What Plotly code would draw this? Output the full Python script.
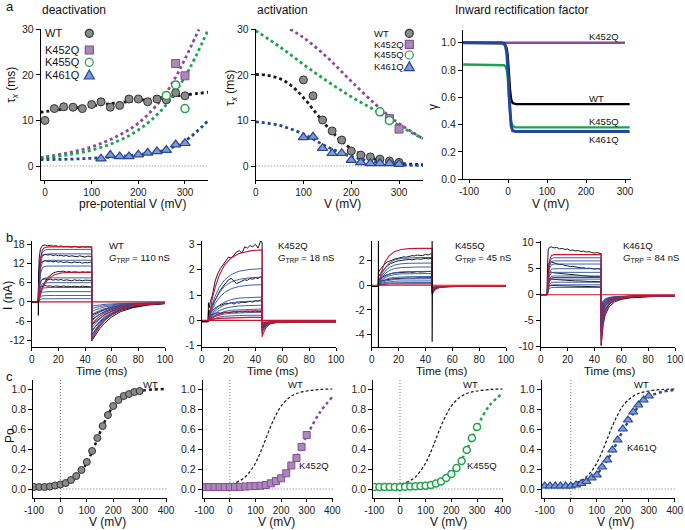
import plotly.graph_objects as go

W, H = 685, 530
FONT = "Liberation Sans, Arial, sans-serif"

INK = "#1a1a1a"
PURPLE = "#8e47a2"
PURPLE_FILL = "#a68cb3"
GREEN = "#1fa34a"
BLUE = "#24469b"
BLUE_FILL = "#7f98cf"
GRAY_FILL = "#8a8a8a"
RED = "#c8142f"
TRACE_BLUE = "#2b4d9f"

# ---------------- a: deactivation ----------------
deact_wt_v = [0, 20, 40, 60, 80, 100, 120, 140, 160, 180, 200, 220, 240, 260, 280, 300]
deact_wt = [10.0, 12.6, 13.0, 12.9, 12.6, 13.5, 14.1, 12.9, 13.3, 14.7, 14.7, 14.1, 14.7, 14.5, 16.1, 15.4]
deact_wt_fit_v = [-10, 50, 100, 150, 200, 250, 300, 350]
deact_wt_fit = [11.8, 12.6, 13.2, 13.8, 14.4, 15.0, 15.6, 16.2]
deact_452_v = [280, 300]
deact_452 = [22.5, 19.8]
deact_452_fit_v = [-10, 0, 50, 100, 150, 200, 250, 280, 300, 330]
deact_452_fit = [1.9, 2.0, 2.9, 4.2, 6.3, 9.4, 14.7, 19.5, 23.5, 30.0]
deact_455_v = [260, 280, 300]
deact_455 = [15.5, 17.8, 12.6]
deact_455_fit_v = [-10, 0, 50, 100, 150, 200, 250, 300, 350]
deact_455_fit = [1.7, 1.8, 2.5, 3.5, 5.2, 7.9, 12.3, 19.6, 30.0]
deact_461_v = [120, 140, 160, 180, 200, 220, 240, 260, 280, 300]
deact_461 = [1.6, 2.4, 2.1, 2.1, 2.5, 2.9, 3.2, 3.5, 4.7, 5.0]
deact_461_fit_v = [-10, 50, 100, 150, 200, 250, 300, 350]
deact_461_fit = [1.4, 1.5, 1.7, 2.0, 2.5, 3.3, 5.5, 10.0]

# ---------------- a: activation ----------------
act_wt_v = [100, 120, 140, 160, 180, 200, 220, 240, 260, 280, 300]
act_wt = [18.9, 15.4, 10.1, 7.7, 5.7, 3.3, 2.4, 2.0, 1.5, 1.1, 0.8]
act_wt_fit_v = [0, 25, 50, 75, 100, 125, 150, 175, 200, 225, 250, 300, 350]
act_wt_fit = [20.1, 19.9, 19.2, 17.6, 15.0, 11.8, 8.6, 5.9, 3.8, 2.4, 1.5, 0.6, 0.3]
act_452_v = [280, 300]
act_452 = [10.4, 8.1]
act_452_fit_v = [72, 100, 150, 200, 250, 280, 300, 350]
act_452_fit = [30.0, 28.2, 23.8, 18.6, 13.6, 10.9, 9.3, 6.0]
act_455_v = [260, 280]
act_455 = [11.9, 10.0]
act_455_fit_v = [0, 50, 100, 150, 200, 250, 300, 350]
act_455_fit = [29.7, 26.2, 22.3, 18.6, 15.2, 12.2, 8.9, 6.0]
act_461_v = [100, 120, 140, 160, 180, 200, 220, 240, 260, 280, 300]
act_461 = [6.3, 6.4, 3.9, 2.8, 2.8, 1.3, 0.8, 0.6, 0.6, 0.6, 0.4]
act_461_fit_v = [0, 50, 100, 150, 200, 250, 300, 350]
act_461_fit = [9.7, 8.9, 7.0, 4.2, 2.1, 0.9, 0.3, 0.1]

# ---------------- a: inward rectification factor ----------------
rect_v = [-115, -15, -10, -6, -3, -1, 0, 1, 3, 5, 8, 12, 20, 312]
rect_wt = [1.0, 1.0, 0.995, 0.98, 0.95, 0.91, 0.88, 0.84, 0.75, 0.66, 0.585, 0.558, 0.55, 0.55]
rect_455 = [0.84, 0.84, 0.835, 0.825, 0.8, 0.76, 0.73, 0.69, 0.6, 0.5, 0.42, 0.39, 0.38, 0.38]
rect_461 = [1.0, 1.0, 0.99, 0.97, 0.92, 0.85, 0.8, 0.74, 0.6, 0.48, 0.39, 0.355, 0.35, 0.35]
rect_452_v = [-115, 300]
rect_452 = [1.0, 1.0]

# ---------------- b: current traces ----------------
t_on = [5, 5.6, 6.5, 8, 10, 13, 17, 22, 28, 36, 45]
t_off = [45, 45.6, 46.5, 48, 51, 55, 60, 67, 76, 87, 100]
t_raw = [0, 4.9, 5, 5.2, 5.6, 6.5, 8, 10, 12, 14, 16, 18, 20, 22, 24, 26, 28, 30, 32, 34, 36, 38, 40, 42, 44, 45]
base_t = [0, 100]
base_i = [0, 0]

# WT
wt_blue_on = [
    [0, 0.45, 0.78, 0.95, 0.99, 1, 1, 1, 1, 1, 1],
    [0, 0.9, 1.56, 1.9, 1.98, 2, 2, 2, 2, 2, 2],
    [0, 1.44, 2.5, 3.04, 3.17, 3.2, 3.2, 3.2, 3.2, 3.2, 3.2],
    [0, 2.03, 3.51, 4.28, 4.46, 4.5, 4.5, 4.5, 4.5, 4.5, 4.5],
    [0, 2.7, 4.68, 5.7, 5.94, 6, 6, 6, 6, 6, 6],
    [0, 3.38, 5.85, 7.13, 7.43, 7.5, 7.5, 7.5, 7.5, 7.5, 7.5],
    [0, 5.04, 8.74, 10.64, 11.09, 11.2, 11.2, 11.2, 11.2, 11.2, 11.2],
    [0, 5.85, 10.14, 12.35, 12.87, 13, 13, 13, 13, 13, 13],
    [0, 6.75, 11.7, 14.25, 14.85, 15, 15, 15, 15, 15, 15],
    [0, 7.38, 12.79, 15.58, 16.24, 16.4, 16.4, 16.4, 16.4, 16.4, 16.4],
]
wt_blue_off = [
    [-1.3, -1.26, -1.19, -1.09, -0.93, -0.76, -0.62, -0.48, -0.39, -0.34, -0.32],
    [-2.1, -2.02, -1.9, -1.73, -1.43, -1.13, -0.87, -0.63, -0.47, -0.37, -0.33],
    [-3.0, -2.88, -2.71, -2.44, -2.0, -1.55, -1.15, -0.8, -0.55, -0.41, -0.34],
    [-4.0, -3.83, -3.6, -3.24, -2.63, -2.01, -1.47, -0.98, -0.64, -0.45, -0.36],
    [-5.0, -4.79, -4.49, -4.03, -3.26, -2.48, -1.78, -1.16, -0.73, -0.49, -0.37],
    [-6.0, -5.74, -5.38, -4.83, -3.89, -2.94, -2.1, -1.35, -0.82, -0.53, -0.39],
    [-8.3, -7.94, -7.43, -6.65, -5.34, -4.0, -2.82, -1.77, -1.04, -0.62, -0.42],
    [-9.4, -8.99, -8.41, -7.53, -6.03, -4.51, -3.17, -1.97, -1.14, -0.66, -0.44],
    [-10.6, -10.14, -9.48, -8.48, -6.79, -5.07, -3.54, -2.2, -1.25, -0.71, -0.45],
    [-11.3, -10.8, -10.1, -9.03, -7.23, -5.39, -3.77, -2.32, -1.31, -0.74, -0.47],
]
wt_red_on = [
    [0, 7.74, 13.42, 16.34, 17.03, 17.2, 17.2, 17.2, 17.2, 17.2, 17.2],
    [0, 1.02, 2.42, 4.19, 5.86, 7.44, 8.46, 9.02, 9.21, 9.3, 9.3],
]
wt_red_off = [
    [-12.0, -11.47, -10.72, -9.59, -7.67, -5.72, -3.99, -2.45, -1.38, -0.77, -0.48],
    [-7.0, -6.7, -6.27, -5.62, -4.52, -3.4, -2.41, -1.53, -0.92, -0.57, -0.4],
]
wt_raw_on = [
    [0, 0, 4, 9, 13.5, 16.5, 17.6, 17.8, 17.5, 17.7, 17.4, 17.6, 17.3, 17.5, 17.2, 17.4, 17.3, 17.1, 17.4, 17.2, 17.0, 17.3, 17.1, 17.2, 17.0, 17.1],
    [0, 0, 3, 7, 11, 13.8, 14.6, 14.9, 14.6, 14.8, 14.5, 14.7, 14.4, 14.6, 14.3, 14.5, 14.2, 14.4, 14.3, 14.1, 14.4, 14.2, 14.0, 14.3, 14.1, 14.2],
    [0, 0, 2.5, 6, 9.5, 11.9, 12.6, 12.9, 12.6, 12.8, 12.5, 12.7, 12.4, 12.6, 12.3, 12.5, 12.4, 12.2, 12.5, 12.3, 12.4, 12.1, 12.3, 12.2, 12.4, 12.3],
    [0, 0, 0.5, 1.2, 2.0, 3.2, 4.6, 6.3, 7.6, 8.4, 9.0, 9.3, 9.5, 9.4, 9.6, 9.3, 9.5, 9.2, 9.4, 9.3, 9.1, 9.4, 9.2, 9.3, 9.1, 9.2],
    [0, 0, 1.2, 3, 4.8, 6.3, 7.0, 7.2, 6.9, 7.1, 6.8, 7.0, 6.8, 7.0, 6.7, 6.9, 6.8, 6.6, 6.9, 6.7, 6.8, 6.6, 6.8, 6.7, 6.8, 6.7],
    [0, 0, 0.8, 2, 3.4, 4.5, 4.9, 5.1, 4.9, 5.0, 4.8, 5.0, 4.9, 4.8, 5.0, 4.8, 4.9, 4.7, 4.9, 4.8, 4.7, 4.9, 4.8, 4.8, 4.7, 4.8],
]
wt_raw_off = [
    [-12.2, -11.8, -11.2, -10.2, -8.4, -6.5, -4.7, -3.0, -1.8, -1.0, -0.55],
    [-10.3, -10.0, -9.5, -8.7, -7.2, -5.6, -4.1, -2.6, -1.6, -0.9, -0.5],
    [-9.0, -8.7, -8.3, -7.6, -6.3, -4.9, -3.6, -2.3, -1.4, -0.8, -0.45],
    [-7.2, -7.0, -6.6, -6.0, -5.0, -3.9, -2.9, -1.9, -1.2, -0.7, -0.4],
    [-5.6, -5.4, -5.1, -4.7, -3.9, -3.0, -2.2, -1.5, -0.95, -0.6, -0.4],
    [-4.3, -4.1, -3.9, -3.6, -3.0, -2.3, -1.7, -1.2, -0.8, -0.5, -0.35],
]
wt_spike_t = [4.95, 5.0, 5.1]
wt_spike_i = [0, -4.2, 0.5]

# K452Q
k452_blue_on = [
    [0, 0.15, 0.35, 0.64, 0.95, 1.3, 1.59, 1.81, 1.94, 2.01, 2.04],
    [0, 0.12, 0.29, 0.54, 0.8, 1.09, 1.34, 1.52, 1.62, 1.68, 1.71],
    [0, 0.1, 0.24, 0.44, 0.66, 0.9, 1.1, 1.25, 1.34, 1.39, 1.41],
    [0, 0.07, 0.16, 0.29, 0.43, 0.59, 0.72, 0.82, 0.88, 0.91, 0.92],
    [0, 0.06, 0.13, 0.24, 0.36, 0.49, 0.61, 0.69, 0.74, 0.76, 0.77],
    [0, 0.04, 0.1, 0.19, 0.28, 0.38, 0.47, 0.53, 0.57, 0.59, 0.6],
    [0, 0.03, 0.08, 0.14, 0.21, 0.28, 0.35, 0.4, 0.42, 0.44, 0.45],
    [0, 0.02, 0.05, 0.1, 0.15, 0.2, 0.25, 0.28, 0.3, 0.31, 0.32],
    [0, 0.01, 0.03, 0.06, 0.09, 0.13, 0.16, 0.18, 0.19, 0.2, 0.2],
]
k452_blue_off = [
    [-0.5, -0.42, -0.32, -0.22, -0.11, -0.07, -0.05, -0.05, -0.05, -0.05, -0.05],
    [-0.45, -0.38, -0.29, -0.2, -0.1, -0.06, -0.05, -0.05, -0.05, -0.05, -0.05],
    [-0.4, -0.34, -0.26, -0.18, -0.1, -0.06, -0.05, -0.05, -0.05, -0.05, -0.05],
    [-0.3, -0.25, -0.2, -0.14, -0.08, -0.06, -0.05, -0.05, -0.05, -0.05, -0.05],
    [-0.27, -0.23, -0.18, -0.13, -0.08, -0.06, -0.05, -0.05, -0.05, -0.05, -0.05],
    [-0.22, -0.19, -0.15, -0.11, -0.07, -0.06, -0.05, -0.05, -0.05, -0.05, -0.05],
    [-0.18, -0.16, -0.13, -0.1, -0.07, -0.05, -0.05, -0.05, -0.05, -0.05, -0.05],
    [-0.14, -0.12, -0.1, -0.08, -0.06, -0.05, -0.05, -0.05, -0.05, -0.05, -0.05],
    [-0.1, -0.09, -0.08, -0.07, -0.06, -0.05, -0.05, -0.05, -0.05, -0.05, -0.05],
]
k452_red_on = [
    [0, 0.2, 0.48, 0.88, 1.3, 1.77, 2.18, 2.47, 2.64, 2.74, 2.78],
    [0, 0.03, 0.06, 0.12, 0.18, 0.24, 0.3, 0.33, 0.36, 0.37, 0.38],
    [0, 0.01, 0.02, 0.04, 0.06, 0.08, 0.09, 0.11, 0.11, 0.12, 0.12],
]
k452_red_off = [
    [-0.65, -0.54, -0.41, -0.27, -0.13, -0.07, -0.05, -0.05, -0.05, -0.05, -0.05],
    [-0.16, -0.14, -0.12, -0.09, -0.06, -0.05, -0.05, -0.05, -0.05, -0.05, -0.05],
    [-0.08, -0.07, -0.07, -0.06, -0.05, -0.05, -0.05, -0.05, -0.05, -0.05, -0.05],
]
k452_raw_on = [
    [-0.05, -0.05, 0.7, 0.6, 0.5, 0.75, 1.0, 1.55, 1.85, 2.05, 2.2, 2.35, 2.5, 2.45, 2.6, 2.7, 2.75, 2.65, 2.9, 2.85, 2.95, 2.9, 3.0, 2.85, 3.15, 3.05],
    [-0.05, -0.05, 0.4, 0.35, 0.3, 0.45, 0.6, 0.85, 1.05, 1.2, 1.35, 1.5, 1.6, 1.65, 1.55, 1.45, 1.5, 1.55, 1.6, 1.58, 1.65, 1.62, 1.68, 1.65, 1.72, 1.7],
    [-0.05, -0.05, 0.3, 0.28, 0.25, 0.3, 0.38, 0.48, 0.55, 0.6, 0.62, 0.68, 0.66, 0.7, 0.64, 0.7, 0.68, 0.72, 0.7, 0.73, 0.75, 0.72, 0.78, 0.76, 0.8, 0.78],
    [-0.05, -0.05, 0.2, 0.18, 0.16, 0.2, 0.24, 0.27, 0.3, 0.28, 0.31, 0.33, 0.3, 0.32, 0.34, 0.31, 0.35, 0.33, 0.34, 0.36, 0.33, 0.35, 0.37, 0.34, 0.36, 0.35],
]
k452_raw_off = [
    [-0.35, -0.3, -0.25, -0.2, -0.13, -0.09, -0.07, -0.06, -0.05, -0.06, -0.05],
    [-0.3, -0.26, -0.22, -0.17, -0.11, -0.08, -0.06, -0.05, -0.05, -0.05, -0.05],
    [-0.25, -0.22, -0.18, -0.14, -0.09, -0.07, -0.06, -0.05, -0.05, -0.05, -0.05],
    [-0.2, -0.18, -0.15, -0.12, -0.08, -0.06, -0.05, -0.05, -0.05, -0.05, -0.05],
]

# K455Q
k455_blue_on = [
    [0, 0.25, 0.58, 1.01, 1.42, 1.8, 2.05, 2.18, 2.23, 2.25, 2.25],
    [0, 0.2, 0.47, 0.81, 1.14, 1.44, 1.64, 1.74, 1.78, 1.8, 1.8],
    [0, 0.17, 0.38, 0.67, 0.94, 1.18, 1.35, 1.43, 1.47, 1.48, 1.48],
    [0, 0.13, 0.29, 0.51, 0.71, 0.89, 1.02, 1.08, 1.11, 1.12, 1.12],
    [0, 0.11, 0.25, 0.43, 0.6, 0.76, 0.86, 0.92, 0.94, 0.95, 0.95],
    [0, 0.08, 0.18, 0.32, 0.44, 0.56, 0.64, 0.68, 0.69, 0.7, 0.7],
    [0, 0.06, 0.13, 0.23, 0.33, 0.41, 0.47, 0.5, 0.51, 0.52, 0.52],
    [0, 0.04, 0.09, 0.16, 0.22, 0.28, 0.32, 0.34, 0.35, 0.35, 0.35],
    [0, 0.02, 0.06, 0.1, 0.14, 0.18, 0.2, 0.21, 0.22, 0.22, 0.22],
]
k455_blue_off = [
    [-0.65, -0.53, -0.4, -0.27, -0.15, -0.11, -0.1, -0.1, -0.1, -0.1, -0.1],
    [-0.58, -0.48, -0.36, -0.24, -0.14, -0.11, -0.1, -0.1, -0.1, -0.1, -0.1],
    [-0.5, -0.41, -0.32, -0.22, -0.14, -0.11, -0.1, -0.1, -0.1, -0.1, -0.1],
    [-0.42, -0.35, -0.28, -0.2, -0.13, -0.11, -0.1, -0.1, -0.1, -0.1, -0.1],
    [-0.38, -0.32, -0.25, -0.18, -0.13, -0.11, -0.1, -0.1, -0.1, -0.1, -0.1],
    [-0.32, -0.27, -0.22, -0.17, -0.12, -0.1, -0.1, -0.1, -0.1, -0.1, -0.1],
    [-0.27, -0.23, -0.19, -0.15, -0.12, -0.1, -0.1, -0.1, -0.1, -0.1, -0.1],
    [-0.22, -0.19, -0.17, -0.14, -0.11, -0.1, -0.1, -0.1, -0.1, -0.1, -0.1],
    [-0.18, -0.16, -0.14, -0.12, -0.11, -0.1, -0.1, -0.1, -0.1, -0.1, -0.1],
]
k455_red_on = [
    [0, 0.34, 0.78, 1.35, 1.9, 2.39, 2.73, 2.9, 2.97, 2.99, 3.0],
    [0, 0.01, 0.03, 0.05, 0.08, 0.1, 0.11, 0.12, 0.12, 0.12, 0.12],
]
k455_red_off = [
    [-0.75, -0.61, -0.46, -0.3, -0.16, -0.11, -0.1, -0.1, -0.1, -0.1, -0.1],
    [-0.15, -0.14, -0.13, -0.12, -0.1, -0.1, -0.1, -0.1, -0.1, -0.1, -0.1],
]
k455_raw_on = [
    [-0.1, -0.1, 1.0, 1.1, 1.15, 1.3, 1.5, 1.75, 1.9, 2.0, 2.1, 2.15, 2.2, 2.25, 2.3, 2.28, 2.35, 2.4, 2.38, 2.45, 2.42, 2.4, 2.5, 2.45, 2.55, 2.5],
    [-0.1, -0.1, 0.7, 0.75, 0.8, 0.95, 1.15, 1.4, 1.6, 1.75, 1.85, 1.92, 1.98, 2.02, 2.05, 2.08, 2.1, 2.06, 2.12, 2.15, 2.1, 2.16, 2.18, 2.14, 2.2, 2.18],
    [-0.1, -0.1, 0.4, 0.42, 0.45, 0.55, 0.65, 0.78, 0.88, 0.93, 0.98, 1.0, 1.03, 1.05, 1.02, 1.06, 1.08, 1.04, 1.09, 1.1, 1.07, 1.11, 1.09, 1.12, 1.1, 1.11],
    [-0.1, -0.1, 0.2, 0.22, 0.25, 0.3, 0.36, 0.42, 0.46, 0.5, 0.52, 0.54, 0.55, 0.57, 0.56, 0.58, 0.59, 0.57, 0.6, 0.58, 0.61, 0.6, 0.59, 0.62, 0.6, 0.61],
]
k455_raw_off = [
    [-0.5, -0.42, -0.34, -0.26, -0.17, -0.12, -0.1, -0.1, -0.09, -0.1, -0.1],
    [-0.55, -0.46, -0.36, -0.25, -0.16, -0.12, -0.1, -0.1, -0.1, -0.1, -0.1],
    [-0.35, -0.3, -0.24, -0.18, -0.13, -0.11, -0.1, -0.1, -0.1, -0.1, -0.1],
    [-0.25, -0.22, -0.18, -0.15, -0.12, -0.1, -0.1, -0.1, -0.1, -0.1, -0.1],
]
k455_spike_t = [4.98, 5.0, 5.02, 5.1, None, 44.98, 45.0, 45.02, 45.2]
k455_spike_i = [-0.1, 5.0, -6.0, -0.1, None, 2.5, 5.0, -4.6, -0.5]

# K461Q
k461_blue_on = [
    [0, 3.9, 6.04, 6.96, 7.1, 7.1, 7.1, 7.1, 7.1, 7.1, 7.1],
    [0, 3.58, 5.53, 6.37, 6.5, 6.5, 6.5, 6.5, 6.5, 6.5, 6.5],
    [0, 3.25, 5.02, 5.78, 5.9, 5.9, 5.9, 5.9, 5.9, 5.9, 5.9],
    [0, 2.75, 4.25, 4.9, 5.0, 5.0, 5.0, 5.0, 5.0, 5.0, 5.0],
    [0, 2.37, 3.66, 4.21, 4.3, 4.3, 4.3, 4.3, 4.3, 4.3, 4.3],
    [0, 1.98, 3.06, 3.53, 3.6, 3.6, 3.6, 3.6, 3.6, 3.6, 3.6],
    [0, 1.65, 2.55, 2.94, 3.0, 3.0, 3.0, 3.0, 3.0, 3.0, 3.0],
    [0, 1.32, 2.04, 2.35, 2.4, 2.4, 2.4, 2.4, 2.4, 2.4, 2.4],
    [0, 1.05, 1.62, 1.86, 1.9, 1.9, 1.9, 1.9, 1.9, 1.9, 1.9],
    [0, 0.77, 1.19, 1.37, 1.4, 1.4, 1.4, 1.4, 1.4, 1.4, 1.4],
]
k461_blue_off = [
    [-8.7, -6.69, -4.86, -3.12, -1.76, -1.02, -0.66, -0.43, -0.29, -0.22, -0.2],
    [-8.0, -6.15, -4.47, -2.88, -1.63, -0.96, -0.62, -0.41, -0.29, -0.22, -0.2],
    [-7.3, -5.62, -4.09, -2.64, -1.5, -0.89, -0.58, -0.39, -0.28, -0.21, -0.2],
    [-6.2, -4.78, -3.49, -2.26, -1.3, -0.78, -0.52, -0.36, -0.27, -0.21, -0.2],
    [-5.4, -4.17, -3.05, -1.99, -1.15, -0.7, -0.48, -0.34, -0.26, -0.21, -0.2],
    [-4.5, -3.48, -2.56, -1.68, -0.99, -0.62, -0.43, -0.32, -0.25, -0.21, -0.2],
    [-3.8, -2.95, -2.17, -1.44, -0.86, -0.55, -0.39, -0.3, -0.24, -0.2, -0.2],
    [-3.1, -2.41, -1.79, -1.2, -0.73, -0.48, -0.36, -0.28, -0.23, -0.2, -0.2],
    [-2.5, -1.95, -1.46, -0.99, -0.62, -0.42, -0.32, -0.26, -0.23, -0.2, -0.2],
    [-1.9, -1.5, -1.13, -0.78, -0.51, -0.36, -0.29, -0.25, -0.22, -0.2, -0.2],
]
k461_red_on = [
    [0, 4.24, 6.55, 7.55, 7.7, 7.7, 7.7, 7.7, 7.7, 7.7, 7.7],
    [0, 1.82, 2.81, 3.23, 3.3, 3.3, 3.3, 3.3, 3.3, 3.3, 3.3],
]
k461_red_off = [
    [-9.5, -7.3, -5.3, -3.4, -1.9, -1.1, -0.7, -0.45, -0.3, -0.22, -0.2],
    [-4.2, -3.25, -2.39, -1.58, -0.93, -0.59, -0.42, -0.31, -0.24, -0.21, -0.2],
]
k461_raw_on = [
    [0, 0, 5.0, 7.5, 8.6, 9.1, 9.2, 9.0, 9.1, 8.8, 8.9, 8.7, 8.8, 8.5, 8.6, 8.4, 8.5, 8.3, 8.4, 8.2, 8.3, 8.1, 8.0, 8.1, 7.9, 7.9],
    [0, 0, 3.5, 5.0, 5.8, 6.2, 6.3, 6.1, 6.0, 5.8, 5.85, 5.6, 5.55, 5.4, 5.45, 5.3, 5.25, 5.15, 5.2, 5.05, 5.1, 5.0, 4.95, 5.0, 4.85, 4.9],
    [0, 0, 2.4, 3.4, 4.0, 4.3, 4.35, 4.2, 4.15, 4.0, 4.05, 3.9, 3.85, 3.8, 3.75, 3.7, 3.72, 3.6, 3.62, 3.55, 3.5, 3.52, 3.45, 3.48, 3.4, 3.42],
    [0, 0, 1.6, 2.4, 2.8, 3.0, 3.05, 2.95, 2.9, 2.85, 2.82, 2.78, 2.75, 2.7, 2.72, 2.65, 2.66, 2.6, 2.62, 2.58, 2.55, 2.56, 2.52, 2.54, 2.5, 2.5],
    [0, 0, 1.0, 1.4, 1.65, 1.8, 1.82, 1.78, 1.75, 1.72, 1.7, 1.68, 1.66, 1.65, 1.63, 1.62, 1.6, 1.58, 1.6, 1.56, 1.55, 1.56, 1.53, 1.54, 1.5, 1.5],
]
k461_raw_off = [
    [-9.8, -7.8, -5.8, -3.9, -2.3, -1.4, -0.9, -0.6, -0.4, -0.3, -0.25],
    [-7.0, -5.6, -4.2, -2.9, -1.8, -1.1, -0.75, -0.5, -0.35, -0.27, -0.22],
    [-5.0, -4.0, -3.0, -2.1, -1.3, -0.85, -0.6, -0.42, -0.3, -0.24, -0.2],
    [-3.6, -2.9, -2.2, -1.5, -1.0, -0.65, -0.45, -0.33, -0.26, -0.22, -0.2],
    [-2.4, -1.9, -1.5, -1.05, -0.7, -0.48, -0.36, -0.28, -0.23, -0.21, -0.2],
]

# ---------------- c: open probability ----------------
po_v = [-100, -80, -60, -40, -20, 0, 20, 40, 60, 80, 100, 120, 140, 160, 180, 200, 220, 240, 260, 280, 300]
po_wt = [0.02, 0.02, 0.02, 0.025, 0.035, 0.045, 0.06, 0.09, 0.13, 0.19, 0.27, 0.38, 0.51, 0.63, 0.74, 0.83, 0.89, 0.93, 0.95, 0.97, 0.98]
po_452 = [0.02, 0.02, 0.02, 0.02, 0.02, 0.02, 0.02, 0.022, 0.025, 0.028, 0.03, 0.033, 0.04, 0.057, 0.08, 0.107, 0.157, 0.235, 0.31, 0.42, 0.54]
po_455 = [0.02, 0.02, 0.02, 0.02, 0.02, 0.02, 0.022, 0.025, 0.028, 0.03, 0.033, 0.04, 0.055, 0.075, 0.11, 0.15, 0.21, 0.28, 0.39, 0.51, 0.62]
po_461 = [0.03, 0.03, 0.03, 0.03, 0.03, 0.03, 0.04, 0.055, 0.075, 0.11, 0.14, 0.22, 0.29, 0.39, 0.49, 0.6, 0.69, 0.77, 0.84, 0.89, 0.93]
po_wt_fit_v = [-110, -50, 0, 50, 80, 100, 120, 140, 160, 180, 200, 230, 260, 300, 350, 400]
po_wt_fit = [0.02, 0.025, 0.045, 0.10, 0.18, 0.26, 0.37, 0.50, 0.63, 0.74, 0.83, 0.91, 0.955, 0.98, 0.995, 1.0]
po_452_fit_v = [-110, 0, 100, 150, 200, 250, 300, 350, 400]
po_452_fit = [0.02, 0.02, 0.03, 0.05, 0.11, 0.27, 0.53, 0.76, 0.92]
po_455_fit_v = [-110, 0, 100, 150, 200, 250, 300, 350, 400]
po_455_fit = [0.02, 0.02, 0.033, 0.06, 0.15, 0.34, 0.62, 0.84, 0.955]
po_461_fit_v = [-110, -50, 0, 50, 100, 150, 200, 250, 300, 350, 400]
po_461_fit = [0.03, 0.03, 0.035, 0.07, 0.15, 0.33, 0.58, 0.79, 0.92, 0.97, 0.99]

fig = go.Figure()
layout = {}


def ids(n):
    s = "" if n == 1 else str(n)
    return "x" + s, "y" + s


def set_axes(n, xdom, ydom, xr, yr, xt, yt, yfmt="{:g}"):
    xid, yid = ids(n)
    base = dict(showline=True, linecolor="black", linewidth=1, ticks="outside",
                ticklen=4, tickwidth=1, tickcolor="black", showgrid=False,
                zeroline=False, fixedrange=True, automargin=False,
                tickfont=dict(family=FONT, size=10.5, color="#222"))
    layout["xaxis" + xid[1:]] = dict(base, domain=[xdom[0] / W, xdom[1] / W], range=xr,
                                     tickvals=xt, ticktext=["{:g}".format(v) for v in xt], anchor=yid,
                                     ticklen=3, tickfont=dict(family=FONT, size=10, color="#222"))
    layout["yaxis" + yid[1:]] = dict(base, domain=[1 - ydom[1] / H, 1 - ydom[0] / H], range=yr,
                                     tickvals=yt, ticktext=[yfmt.format(v) for v in yt], anchor=xid)


def line(n, x, y, color, width, dash=None, shape="linear"):
    xid, yid = ids(n)
    fig.add_trace(go.Scatter(x=x, y=y, mode="lines", xaxis=xid, yaxis=yid,
                             line=dict(color=color, width=width, dash=dash, shape=shape),
                             hoverinfo="skip", showlegend=False))


def points(n, x, y, symbol, size, fill, edge, ew=1):
    xid, yid = ids(n)
    fig.add_trace(go.Scatter(x=x, y=y, mode="markers", xaxis=xid, yaxis=yid,
                             marker=dict(symbol=symbol, size=size, color=fill,
                                         line=dict(color=edge, width=ew)),
                             hoverinfo="skip", showlegend=False))


def sweeps(n, on_list, off_list, color, t1, t2, width=0.9):
    for on, off in zip(on_list, off_list):
        line(n, t1 + t2, on + off, color, width)


shapes = []
notes = []


def note(text, x, y, size=10.5, xanchor="center", yanchor="middle", angle=0, xref="paper", yref="paper"):
    if xref == "paper":
        x = x / W
    if yref == "paper":
        y = 1 - y / H
    notes.append(dict(text=text, x=x, y=y, xref=xref, yref=yref, showarrow=False,
                      xanchor=xanchor, yanchor=yanchor, textangle=angle,
                      font=dict(family=FONT, size=size, color="#111")))


def zero_h(n):
    xid, yid = ids(n)
    shapes.append(dict(type="line", xref=xid + " domain", yref=yid, x0=0, x1=1, y0=0, y1=0,
                       line=dict(color="#555", width=0.8, dash="1px,2px"), layer="below"))


def zero_v(n):
    xid, yid = ids(n)
    shapes.append(dict(type="line", xref=xid, yref=yid + " domain", x0=0, x1=0, y0=0, y1=1,
                       line=dict(color="#555", width=0.8, dash="1px,2px"), layer="below"))


def key(kind, cx, cy, fill, edge):
    common = dict(xref="paper", yref="paper", xsizemode="pixel", ysizemode="pixel",
                  xanchor=cx / W, yanchor=1 - cy / H, fillcolor=fill, line=dict(color=edge, width=1.2))
    if kind == "circle":
        shapes.append(dict(common, type="circle", x0=-4, x1=4, y0=-4, y1=4))
    elif kind == "square":
        shapes.append(dict(common, type="rect", x0=-4, x1=4, y0=-4, y1=4))
    else:
        shapes.append(dict(common, type="path", path="M -5 -4 L 5 -4 L 0 5 Z"))


# ---------- row a ----------
set_axes(1, (40.7, 208), (29, 180), [-9.2, 349.3], [-3.07, 30.07], [0, 100, 200, 300], [0, 10, 20, 30])
set_axes(2, (255.7, 423), (29, 180), [0, 350.2], [-3.07, 30.07], [0, 100, 200, 300], [0, 10, 20, 30])
set_axes(3, (463, 630.7), (30, 179.3), [-115.4, 314.6], [0, 1.093], [-100, 0, 100, 200, 300],
         [0, 0.2, 0.4, 0.6, 0.8, 1.0], "{:.1f}")
zero_h(1)
zero_h(2)

FIT_W = 2.8
line(1, deact_wt_fit_v, deact_wt_fit, INK, FIT_W, "dot", "spline")
line(1, deact_452_fit_v, deact_452_fit, PURPLE, FIT_W, "dot", "spline")
line(1, deact_455_fit_v, deact_455_fit, GREEN, FIT_W, "dot", "spline")
line(1, deact_461_fit_v, deact_461_fit, BLUE, FIT_W, "dot", "spline")
points(1, deact_wt_v, deact_wt, "circle", 8, GRAY_FILL, "#333")
points(1, deact_452_v, deact_452, "square", 8, PURPLE_FILL, PURPLE)
points(1, deact_455_v, deact_455, "circle", 8, "white", GREEN, 1.5)
points(1, deact_461_v, deact_461, "triangle-up", 9, BLUE_FILL, BLUE, 1.2)

line(2, act_wt_fit_v, act_wt_fit, INK, FIT_W, "dot", "spline")
line(2, act_452_fit_v, act_452_fit, PURPLE, FIT_W, "dot", "spline")
line(2, act_455_fit_v, act_455_fit, GREEN, FIT_W, "dot", "spline")
line(2, act_461_fit_v, act_461_fit, BLUE, FIT_W, "dot", "spline")
points(2, act_wt_v, act_wt, "circle", 8, GRAY_FILL, "#333")
points(2, act_452_v, act_452, "square", 8, PURPLE_FILL, PURPLE)
points(2, act_455_v, act_455, "circle", 8, "white", GREEN, 1.5)
points(2, act_461_v, act_461, "triangle-up", 9, BLUE_FILL, BLUE, 1.2)

line(3, rect_452_v, rect_452, PURPLE, 2.4)
line(3, rect_v, rect_455, GREEN, 2.4)
line(3, rect_v, rect_wt, "black", 2.4)
line(3, rect_v, rect_461, BLUE, 3.0)

for lbl, cy in zip(["WT", "K452Q", "K455Q", "K461Q"], [33.3, 50, 62.3, 75]):
    note(lbl, 42.7, cy, size=11, xanchor="left")
for lbl, cy in zip(["WT", "K452Q", "K455Q", "K461Q"], [33.3, 44.3, 55, 66.7]):
    note(lbl, 371.7, cy, size=9.5, xanchor="left")
for cx, rows in [(89.3, [33.3, 50, 62.3, 75]), (409.3, [33.3, 44.3, 55, 66.7])]:
    key("circle", cx, rows[0], GRAY_FILL, "#333")
    key("square", cx, rows[1], PURPLE_FILL, PURPLE)
    key("circle", cx, rows[2], "white", GREEN)
    key("triangle", cx, rows[3], BLUE_FILL, BLUE)

note("K452Q", 203, 1.045, size=9.5, xanchor="left", xref="x3", yref="y3")
note("WT", 203, 0.59, size=9.5, xanchor="left", xref="x3", yref="y3")
note("K455Q", 203, 0.42, size=9.5, xanchor="left", xref="x3", yref="y3")
note("K461Q", 203, 0.295, size=9.5, xanchor="left", xref="x3", yref="y3")

note("a", 4, 7, size=13, xanchor="left")
note("deactivation", 40, 10, size=12, xanchor="left")
note("activation", 255, 10, size=12, xanchor="left")
note("Inward rectification factor", 453, 10, size=12, xanchor="left")
note("τ<sub><i>x</i></sub> (ms)", 12, 85, size=12, angle=-90)
note("τ<sub><i>x</i></sub> (ms)", 231, 88, size=12, angle=-90)
note("γ", 433, 107, size=12, angle=-90)
note("pre-potential V (mV)", 132, 204, size=12)
note("V (mV)", 342, 204, size=12)
note("V (mV)", 550, 204, size=12)

# ---------- row b ----------
b_ydom = (241, 347)
set_axes(4, (31.7, 165), b_ydom, [0, 100], [-14.1, 19.03], [0, 20, 40, 60, 80, 100], [-12, -6, 0, 6, 12, 18])
set_axes(5, (201.7, 336), b_ydom, [0, 100], [-1.05, 3.13], [0, 20, 40, 60, 80, 100], [-1, 0, 1, 2, 3])
set_axes(6, (371.7, 506), b_ydom, [0, 100], [-5.02, 3.59], [0, 20, 40, 60, 80, 100], [-4, -2, 0, 2])
set_axes(7, (540.7, 675), b_ydom, [0, 100], [-10.06, 10.33], [0, 20, 40, 60, 80, 100], [-10, -5, 0, 5, 10])

panels_b = [
    (4, wt_raw_on, wt_raw_off, wt_blue_on, wt_blue_off, wt_red_on, wt_red_off),
    (5, k452_raw_on, k452_raw_off, k452_blue_on, k452_blue_off, k452_red_on, k452_red_off),
    (6, k455_raw_on, k455_raw_off, k455_blue_on, k455_blue_off, k455_red_on, k455_red_off),
    (7, k461_raw_on, k461_raw_off, k461_blue_on, k461_blue_off, k461_red_on, k461_red_off),
]
for n, raw_on, raw_off, blue_on, blue_off, red_on, red_off in panels_b:
    sweeps(n, raw_on, raw_off, "black", t_raw, t_off)
    sweeps(n, blue_on, blue_off, TRACE_BLUE, t_on, t_off)
    sweeps(n, red_on, red_off, RED, t_on, t_off, 1.1)
    line(n, base_t, base_i, RED, 1.1)
line(4, wt_spike_t, wt_spike_i, "black", 1)
line(6, k455_spike_t, k455_spike_i, "black", 1.1)

note("b", 4, 237, size=13, xanchor="left")
note("I (nA)", 8, 296, size=12, angle=-90)
for cx in [101, 272, 441, 609]:
    note("Time (ms)", cx, 371, size=11.5)
for x0, name, g in [(107, "WT", "110"), (276, "K452Q", "18"), (453, "K455Q", "45"), (621, "K461Q", "84")]:
    note(name, x0, 245, size=9.5, xanchor="left")
    note("<i>G</i><sub>TRP</sub> = " + g + " nS", x0, 258, size=9.5, xanchor="left")

# ---------- row c ----------
c_ydom = (380, 498)
c_yrange = [-0.09, 1.09]
c_yt = [0, 0.2, 0.4, 0.6, 0.8, 1.0]
c_xt = [-100, 0, 100, 200, 300, 400]
set_axes(8, (33.3, 166.5), c_ydom, [-102.7, 401.9], c_yrange, c_xt, c_yt, "{:.1f}")
set_axes(9, (202.7, 333), c_ydom, [-106.2, 402.7], c_yrange, c_xt, c_yt, "{:.1f}")
set_axes(10, (373.3, 503), c_ydom, [-103.9, 401.2], c_yrange, c_xt, c_yt, "{:.1f}")
set_axes(11, (541.7, 675), c_ydom, [-112, 400.8], c_yrange, c_xt, c_yt, "{:.1f}")
for n in range(8, 12):
    zero_h(n)
    zero_v(n)

WT_DASH = "3px,2px"
line(8, po_wt_fit_v, po_wt_fit, INK, 2.5, "dot", "spline")
points(8, po_v, po_wt, "circle", 7, GRAY_FILL, "#333")

line(9, po_wt_fit_v, po_wt_fit, INK, 1.2, WT_DASH, "spline")
line(9, po_452_fit_v, po_452_fit, PURPLE, 2.5, "dot", "spline")
points(9, po_v, po_452, "square", 7, PURPLE_FILL, PURPLE)

line(10, po_wt_fit_v, po_wt_fit, INK, 1.2, WT_DASH, "spline")
line(10, po_455_fit_v, po_455_fit, GREEN, 2.5, "dot", "spline")
points(10, po_v, po_455, "circle", 7, "white", GREEN, 1.5)

line(11, po_wt_fit_v, po_wt_fit, INK, 1.2, WT_DASH, "spline")
line(11, po_461_fit_v, po_461_fit, BLUE, 2.5, "dot", "spline")
points(11, po_v, po_461, "triangle-up", 8, BLUE_FILL, BLUE, 1.2)

note("WT", 342, 1.05, size=9.5, xref="x8", yref="y8")
note("WT", 257, 1.05, size=9.5, xref="x9", yref="y9")
note("K452Q", 263, 0.24, size=9.5, xanchor="left", xref="x9", yref="y9")
note("WT", 274, 1.05, size=9.5, xref="x10", yref="y10")
note("K455Q", 253, 0.24, size=9.5, xanchor="left", xref="x10", yref="y10")
note("WT", 270, 1.05, size=9.5, xref="x11", yref="y11")
note("K461Q", 210, 0.42, size=9.5, xanchor="left", xref="x11", yref="y11")

note("c", 4, 376, size=13, xanchor="left")
note("Po", 10, 436, size=12, angle=-90)
for cx in [107, 276, 448, 615]:
    note("V (mV)", cx, 522, size=12)

fig.update_layout(
    template="none",
    width=W,
    height=H,
    margin=dict(l=0, r=0, t=0, b=0, autoexpand=False),
    plot_bgcolor="white",
    paper_bgcolor="white",
    showlegend=False,
    font=dict(family=FONT, color="#111"),
    shapes=shapes,
    annotations=notes,
    **layout,
)

# the page body has a default 8px margin; drop it so the figure sits at the window origin
fig.write_html(
    "out.html",
    config={"displayModeBar": False, "staticPlot": True},
    post_script="document.body.style.margin='0';document.body.style.overflow='hidden';",
)
